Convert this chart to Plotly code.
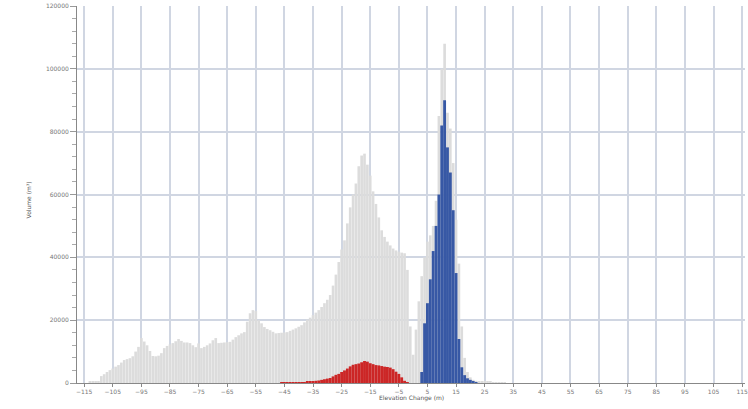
import plotly.graph_objects as go

# Elevation change bins (m)
grey_x = list(range(-113, 33))
grey_vals = [400, 400, 500, 600, 2200, 2800, 3500, 4100, 4600, 5200,
             5700, 6500, 7300, 7600, 7900, 8500, 10000, 11500, 14300, 13200,
             12000, 10200, 8600, 8500, 8700, 9500, 11100, 11800, 12300, 12700,
             13300, 14000, 13400, 12900, 12900, 12700, 12000, 11400, 12600, 11100,
             11500, 12000, 12600, 13600, 14300, 12700, 12800, 12900, 13000, 13100,
             13800, 14600, 15200, 15800, 16200, 19500, 22200, 23200, 22900, 20000,
             19000, 17800, 17200, 16800, 16300, 15800, 15900, 16000, 16100, 16200,
             16600, 17000, 17400, 17900, 18400, 19300, 20200, 20800, 21600, 22400,
             23200, 24200, 25400, 26500, 28000, 31000, 34500, 38500, 42500, 45400,
             50800, 55900, 60000, 63500, 69000, 72400, 73000, 69500, 66000, 61000,
             57000, 52700, 48600, 46500, 45000, 43800, 42800, 42200, 41800, 41500,
             41300, 36000, 18000, 9000, 17000, 26000, 34000, 40000, 45000, 47000,
             50000, 58000, 85000, 100000, 108000, 86000, 81000, 70000, 52000, 38000,
             18000, 8000, 3500, 1800, 1000, 700, 600, 500, 500, 400,
             400, 300, 300, 250, 200, 150]

blue_x = list(range(3, 23))
blue_vals = [3500, 19000, 25400, 33000, 42000, 50000, 60000, 82000, 90000, 75000,
             67000, 55000, 35000, 14000, 5000, 2500, 1500, 1000, 500, 300]

red_x = list(range(-46, -1))
red_vals = [100, 150, 150, 200, 200, 250, 250, 300, 300, 400,
            500, 600, 700, 800, 1000, 1200, 1400, 1600, 2100, 2600,
            2900, 3500, 4000, 4600, 5300, 5800, 6000, 6200, 6600, 7000,
            6800, 6300, 6000, 5700, 5600, 5400, 5200, 5100, 4900, 4400,
            3600, 2900, 1800, 700, 200]

y_ticks = [0, 20000, 40000, 60000, 80000, 100000, 120000]

fig = go.Figure()
fig.add_trace(go.Bar(x=grey_x, y=grey_vals, width=0.92,
                     marker=dict(color="rgb(220,220,220)", line=dict(width=0)),
                     showlegend=False))
fig.add_trace(go.Bar(x=red_x, y=red_vals, width=1.0,
                     marker=dict(color="rgb(204,38,38)", line=dict(width=0)),
                     showlegend=False))
fig.add_trace(go.Bar(x=blue_x, y=blue_vals, width=1.0,
                     marker=dict(color="rgb(55,88,165)", line=dict(width=0)),
                     showlegend=False))

grid = "rgb(208,214,226)"
L, R, T, B = 77, 3, 6, 26
W, H = 748, 409
pw = W - L - R
ph = H - T - B

fig.update_layout(
    width=W, height=H,
    margin=dict(l=L, r=R, t=T, b=B, autoexpand=False),
    paper_bgcolor="white", plot_bgcolor="white",
    barmode="overlay",
    font=dict(family="DejaVu Sans", size=6, color="#777"),
    xaxis=dict(range=[-117.5, 116], tick0=-115, dtick=10, tickmode="linear",
               automargin=False, ticklabeloverflow="allow",
               showgrid=True, gridcolor=grid, gridwidth=1.5,
               showline=True, linecolor="#888", linewidth=1,
               ticks="outside", ticklen=3, tickcolor="#888",
               tickfont=dict(size=6, color="#777"), zeroline=False),
    yaxis=dict(range=[0, 120000], tickvals=y_ticks, ticktext=[str(v) for v in y_ticks],
               automargin=False, ticklabeloverflow="allow",
               showgrid=True, gridcolor=grid, gridwidth=1.5,
               showline=True, linecolor="#888", linewidth=1,
               ticks="outside", ticklen=6, tickcolor="#999",
               minor=dict(dtick=4000, ticks="outside", ticklen=4, tickcolor="#aaa", showgrid=False),
               tickfont=dict(size=6, color="#777"), zeroline=False),
    annotations=[
        dict(text="Elevation Change (m)", xref="paper", yref="paper",
             x=(411 - L) / pw, y=(H - B - 404) / ph,
             showarrow=False, font=dict(size=6, color="#555")),
        dict(text="Volume (m³)", xref="paper", yref="paper", textangle=-90,
             x=(22 - L) / pw, y=(H - B - 200) / ph,
             showarrow=False, font=dict(size=6, color="#555")),
    ],
)

fig.write_html("out.html", config={"displayModeBar": False},
               post_script="document.body.style.margin='0px';document.body.style.padding='0px';")
